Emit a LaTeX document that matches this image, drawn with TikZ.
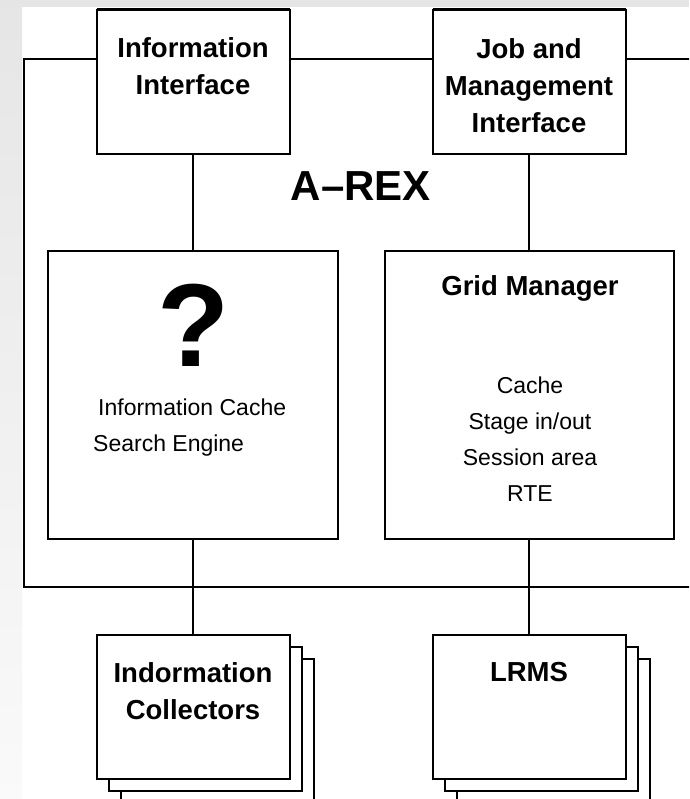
\documentclass[tikz,border=0pt]{standalone}
\usepackage{fontspec}
\setmainfont{Liberation Sans}
\begin{document}
\begin{tikzpicture}[x=1pt,y=-1pt,
  box/.style={draw=black,line width=2pt,fill=white,rectangle,inner sep=0pt,outer sep=0pt},
  ibox/.style={box,minimum width=193pt,minimum height=144pt},
  bigbox/.style={box,minimum width=290pt,minimum height=288pt},
  btxt/.style={font=\bfseries\fontsize{27.5}{37}\selectfont,align=center,inner sep=0pt},
  rtxt/.style={font=\fontsize{23}{36}\selectfont,inner sep=0pt},
  conn/.style={line width=2pt}]
\useasboundingbox (0,0) rectangle (689,799);
\clip (0,0) rectangle (689,799);
% background
\fill[white] (0,0) rectangle (689,799);
\shade[top color=black!10,bottom color=black!2] (0,0) rectangle (22,799);
\fill[black!10] (0,0) rectangle (689,7);
% outer A-REX box
\node[box,fill=none,anchor=north west,minimum width=700pt,minimum height=528pt] (arex) at (24,59) {};
\node[font=\bfseries\fontsize{42}{42}\selectfont,inner sep=0pt] (arexlabel) at (361,186) {A--REX};
% interface boxes
\node[ibox] (info) at (193,82) {};
\node[ibox] (job) at (529,82) {};
\draw[line width=3pt] (info.north west) -- (info.north east);
\draw[line width=3pt] (job.north west) -- (job.north east);
\node[btxt] (infotxt) at (193,66) {Information\\Interface};
\node[btxt] (jobtxt) at (529,86) {Job and\\Management\\Interface};
% inner boxes
\node[bigbox] (left) at (193,395) {};
\node[bigbox,minimum width=289pt] (right) at (529,395) {};
\node[font=\bfseries\fontsize{118}{118}\selectfont,inner sep=0pt] (qm) at (194,325) {?};
\node[rtxt,align=left,anchor=west] (lefttxt) at (93,427.5) {\hspace*{5pt}Information Cache\\Search Engine};
\node[btxt] (gm) at (530,288) {Grid Manager};
\node[rtxt,align=center] (gmtxt) at (530,439.5) {Cache\\Stage in/out\\Session area\\RTE};
% stacked bottom boxes
\node[ibox] (coll3) at (217,731) {};
\node[ibox] (coll2) at (205,719) {};
\node[ibox] (coll) at (193,707) {};
\node[ibox] (lrms3) at (553,731) {};
\node[ibox] (lrms2) at (541,719) {};
\node[ibox] (lrms) at (529,707) {};
\node[btxt] (colltxt) at (193,691.5) {Indormation\\Collectors};
\node[btxt] (lrmstxt) at (529,672) {LRMS};
% connectors
\draw[conn] (info.south) -- (left.north);
\draw[conn] (job.south) -- (right.north);
\draw[conn] (left.south) -- (coll.north);
\draw[conn] (right.south) -- (lrms.north);
\end{tikzpicture}
\end{document}
